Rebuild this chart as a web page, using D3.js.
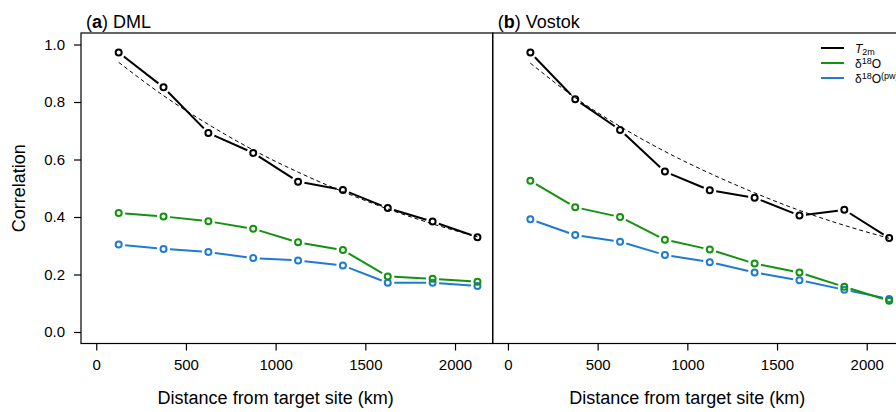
<!DOCTYPE html>
<html>
<head>
<meta charset="utf-8">
<script src="https://cdn.jsdelivr.net/npm/d3@7"></script>
<style>
  body { margin: 0; background: #fff; }
  svg { font-family: "Liberation Sans", Arial, sans-serif; }
</style>
</head>
<body>
<div id="chart"></div>
<script>
// distances (km) of the rings around each target site
var distance = [125, 375, 625, 875, 1125, 1375, 1625, 1875, 2125]

// (a) DML
var dmlT2m    = [0.972, 0.851, 0.692, 0.623, 0.523, 0.494, 0.431, 0.384, 0.330]
var dmlD18O   = [0.414, 0.402, 0.385, 0.359, 0.312, 0.285, 0.193, 0.185, 0.175]
var dmlD18Opw = [0.304, 0.289, 0.278, 0.257, 0.249, 0.231, 0.171, 0.171, 0.160]
var dmlFit    = [0.938, 0.822, 0.722, 0.633, 0.556, 0.488, 0.428, 0.376, 0.331]

// (b) Vostok
var vosT2m    = [0.972, 0.810, 0.703, 0.558, 0.493, 0.467, 0.405, 0.425, 0.327]
var vosD18O   = [0.526, 0.434, 0.400, 0.321, 0.287, 0.238, 0.207, 0.157, 0.109]
var vosD18Opw = [0.392, 0.337, 0.314, 0.268, 0.243, 0.207, 0.180, 0.147, 0.115]
var vosFit    = [0.935, 0.815, 0.715, 0.628, 0.552, 0.484, 0.423, 0.371, 0.326]

var xTicks = [0, 500, 1000, 1500, 2000]
var yTicks = [0, 0.2, 0.4, 0.6, 0.8, 1.0]

var colT = '#000000', colO = '#13920f', colP = '#1f7ad6'

var W = 896, H = 412
var svg = d3.select('#chart').append('svg').attr('width', W).attr('height', H)

// Panel geometry
var plotTop = 33, plotBottom = 343.5, panelW = 411.7
var y = d3.scaleLinear().domain([-0.04, 1.04]).range([plotBottom, plotTop])

var panels = [
  {x0: 81,         tag: 'a', name: ' DML',    t: dmlT2m, o: dmlD18O, p: dmlD18Opw, fit: dmlFit, yaxis: true,  legend: false},
  {x0: 81+panelW,  tag: 'b', name: ' Vostok', t: vosT2m, o: vosD18O, p: vosD18Opw, fit: vosFit, yaxis: false, legend: true}
]

function drawSeries(g, x, vals, col) {
  var pts = distance.map((d, i) => [x(d), y(vals[i])])
  var gap = 6.5
  var segs = d3.pairs(pts).map(function(p) {
    var dx = p[1][0]-p[0][0], dy = p[1][1]-p[0][1], L = Math.sqrt(dx*dx+dy*dy)
    var ux = dx/L, uy = dy/L
    return [p[0][0]+ux*gap, p[0][1]+uy*gap, p[1][0]-ux*gap, p[1][1]-uy*gap]
  })
  g.append('g').selectAll('line').data(segs).enter().append('line')
    .attr('x1', d => d[0]).attr('y1', d => d[1])
    .attr('x2', d => d[2]).attr('y2', d => d[3])
    .attr('stroke', col).attr('stroke-width', 2)
  g.append('g').selectAll('circle').data(pts).enter().append('circle')
    .attr('cx', d => d[0]).attr('cy', d => d[1]).attr('r', 3)
    .attr('fill', 'none').attr('stroke', col).attr('stroke-width', 2)
}

panels.forEach(function(P) {
  var x = d3.scaleLinear().domain([-85, 2210]).range([P.x0, P.x0 + panelW])
  var g = svg.append('g')

  // dashed fit
  g.append('path')
    .datum(distance.map((d, i) => [d, P.fit[i]]))
    .attr('d', d3.line().x(d => x(d[0])).y(d => y(d[1])).curve(d3.curveMonotoneX))
    .attr('fill', 'none').attr('stroke', '#000').attr('stroke-width', 1)
    .attr('stroke-dasharray', '4,3')

  drawSeries(g, x, P.p, colP)
  drawSeries(g, x, P.o, colO)
  drawSeries(g, x, P.t, colT)

  // box
  g.append('rect').attr('x', P.x0).attr('y', plotTop).attr('width', panelW).attr('height', plotBottom - plotTop)
    .attr('fill', 'none').attr('stroke', '#000').attr('stroke-width', 1.2)

  // x axis
  var xa = g.append('g').attr('transform', 'translate(0,' + plotBottom + ')')
    .call(d3.axisBottom(x).tickValues(xTicks).tickSize(7).tickSizeOuter(0).tickPadding(9).tickFormat(d3.format('d')))
  xa.select('.domain').remove()
  xa.selectAll('line').attr('stroke', '#000').attr('stroke-width', 1.2)
  xa.selectAll('text').attr('font-size', 15).attr('fill', '#000').attr('font-family', '"Liberation Sans", Arial, sans-serif')

  g.append('text').attr('x', x(1000)).attr('y', 404).attr('text-anchor', 'middle')
    .attr('font-size', 18).text('Distance from target site (km)')

  // panel title
  var tt = g.append('text').attr('x', P.x0 + 5).attr('y', 28).attr('font-size', 18)
  tt.append('tspan').text('(')
  tt.append('tspan').attr('font-weight', 'bold').text(P.tag)
  tt.append('tspan').text(')' + P.name)

  if (P.yaxis) {
    var ya = g.append('g').attr('transform', 'translate(' + P.x0 + ',0)')
      .call(d3.axisLeft(y).tickValues(yTicks).tickSize(7).tickSizeOuter(0).tickPadding(9).tickFormat(d3.format('.1f')))
    ya.select('.domain').remove()
    ya.selectAll('line').attr('stroke', '#000').attr('stroke-width', 1.2)
    ya.selectAll('text').attr('font-size', 15).attr('fill', '#000').attr('font-family', '"Liberation Sans", Arial, sans-serif')
    g.append('text').attr('transform', 'translate(25,' + ((plotTop + plotBottom) / 2) + ') rotate(-90)')
      .attr('text-anchor', 'middle').attr('font-size', 18).text('Correlation')
  }

  if (P.legend) {
    var items = [{col: colT, k: 't'}, {col: colO, k: 'o'}, {col: colP, k: 'p'}]
    var lg = g.append('g').attr('transform', 'translate(821,48)')
    items.forEach(function(it, i) {
      lg.append('line').attr('x1', 0).attr('x2', 23).attr('y1', i * 15).attr('y2', i * 15)
        .attr('stroke', it.col).attr('stroke-width', 2)
      var t = lg.append('text').attr('x', 34).attr('y', i * 15 + 4.5).attr('font-size', 12)
      if (it.k === 't') {
        t.append('tspan').attr('font-style', 'italic').text('T')
        t.append('tspan').attr('font-size', 9).attr('dy', 2.5).text('2m')
      } else {
        t.append('tspan').text('δ')
        t.append('tspan').attr('font-size', 9).attr('dy', -4).text('18')
        t.append('tspan').attr('dy', 4).text('O')
        if (it.k === 'p') t.append('tspan').attr('font-size', 9).attr('dy', -4).text('(pw)')
      }
    })
  }
})
</script>
</body>
</html>
